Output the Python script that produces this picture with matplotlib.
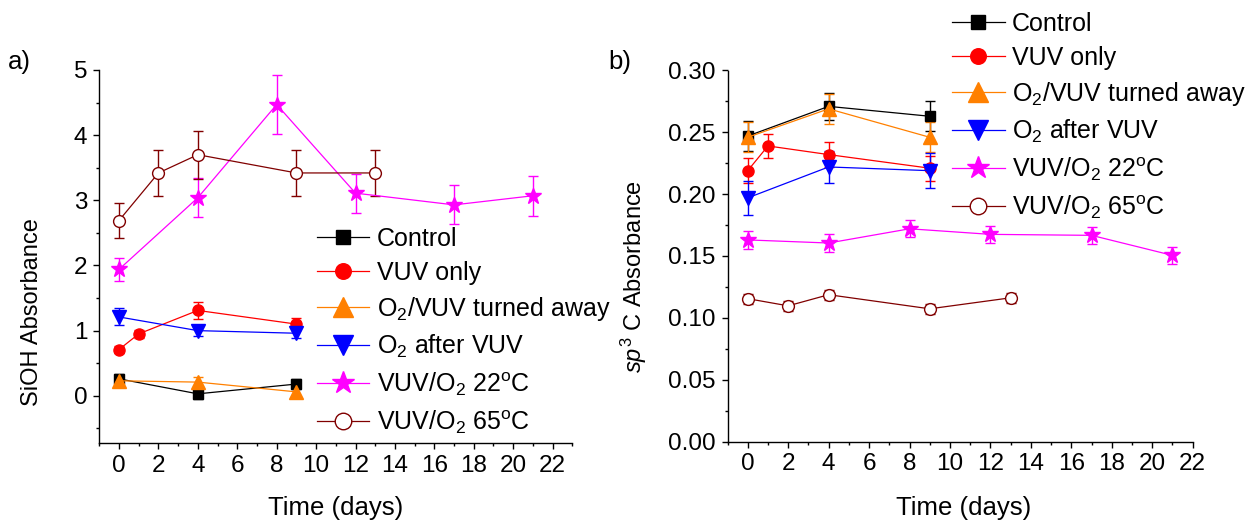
import matplotlib
matplotlib.use("Agg")
import matplotlib.pyplot as plt
from matplotlib.ticker import MultipleLocator, FormatStrFormatter

plt.rcParams["font.family"] = ["Liberation Sans", "DejaVu Sans"]
plt.rcParams["mathtext.fontset"] = "custom"
plt.rcParams["mathtext.rm"] = "Liberation Sans"
plt.rcParams["mathtext.it"] = "Liberation Sans:italic"
plt.rcParams["mathtext.bf"] = "Liberation Sans:bold"

# ── Data: panel a) SiOH absorbance ─────────────────────────────────────────
a_ctrl_days = [0, 4, 9]
a_ctrl_vals = [0.26, 0.03, 0.18]
a_ctrl_err = [0.08, 0.08, 0.08]

a_vuv_days = [0, 1, 4, 9]
a_vuv_vals = [0.71, 0.95, 1.31, 1.10]
a_vuv_err = [0.05, 0.06, 0.13, 0.09]

a_away_days = [0, 4, 9]
a_away_vals = [0.23, 0.21, 0.06]
a_away_err = [0.08, 0.08, 0.08]

a_after_days = [0, 4, 9]
a_after_vals = [1.21, 1.00, 0.96]
a_after_err = [0.13, 0.08, 0.07]

a_22_days = [0, 4, 8, 12, 17, 21]
a_22_vals = [1.94, 3.04, 4.47, 3.11, 2.93, 3.07]
a_22_err = [0.18, 0.30, 0.45, 0.30, 0.30, 0.31]

a_65_days = [0, 2, 4, 9, 13]
a_65_vals = [2.69, 3.42, 3.70, 3.42, 3.42]
a_65_err = [0.27, 0.35, 0.37, 0.35, 0.35]

# ── Data: panel b) sp3 C absorbance ────────────────────────────────────────
b_ctrl_days = [0, 4, 9]
b_ctrl_vals = [0.247, 0.271, 0.263]
b_ctrl_err = [0.012, 0.011, 0.012]

b_vuv_days = [0, 1, 4, 9]
b_vuv_vals = [0.219, 0.239, 0.232, 0.221]
b_vuv_err = [0.010, 0.010, 0.010, 0.010]

b_away_days = [0, 4, 9]
b_away_vals = [0.246, 0.269, 0.246]
b_away_err = [0.012, 0.012, 0.012]

b_after_days = [0, 4, 9]
b_after_vals = [0.197, 0.222, 0.219]
b_after_err = [0.014, 0.013, 0.014]

b_22_days = [0, 4, 8, 12, 17, 21]
b_22_vals = [0.163, 0.1605, 0.172, 0.1675, 0.1667, 0.1505]
b_22_err = [0.007, 0.007, 0.007, 0.007, 0.007, 0.007]

b_65_days = [0, 2, 4, 9, 13]
b_65_vals = [0.1155, 0.1097, 0.1187, 0.1073, 0.1162]
b_65_err = [0.004, 0.004, 0.004, 0.004, 0.004]

labels = [
    "Control",
    "VUV only",
    r"O$_2$/VUV turned away",
    r"O$_2$ after VUV",
    r"VUV/O$_2$ 22$^{\rm o}$C",
    r"VUV/O$_2$ 65$^{\rm o}$C",
]

# (color, marker, size, face)
styles = [
    ("black", "s", 7.5, "black"),
    ("#FF0000", "o", 8, "#FF0000"),
    ("#FF8000", "^", 10, "#FF8000"),
    ("#0000FF", "v", 10, "#0000FF"),
    ("#FF00FF", "*", 12, "#FF00FF"),
    ("#800000", "o", 8.5, "white"),
]

panel_a = [
    (a_ctrl_days, a_ctrl_vals, a_ctrl_err),
    (a_vuv_days, a_vuv_vals, a_vuv_err),
    (a_away_days, a_away_vals, a_away_err),
    (a_after_days, a_after_vals, a_after_err),
    (a_22_days, a_22_vals, a_22_err),
    (a_65_days, a_65_vals, a_65_err),
]
panel_b = [
    (b_ctrl_days, b_ctrl_vals, b_ctrl_err),
    (b_vuv_days, b_vuv_vals, b_vuv_err),
    (b_away_days, b_away_vals, b_away_err),
    (b_after_days, b_after_vals, b_after_err),
    (b_22_days, b_22_vals, b_22_err),
    (b_65_days, b_65_vals, b_65_err),
]

W, H = 1248, 524
fig = plt.figure(figsize=(W / 100, H / 100), dpi=100)


def px_axes(x0, y0, x1, y1):
    return fig.add_axes([x0 / W, 1 - y1 / H, (x1 - x0) / W, (y1 - y0) / H])


def draw_panel(ax, series):
    handles = []
    for (x, y, e), (col, mk, ms, face) in zip(series, styles):
        c = ax.errorbar(x, y, yerr=e, color=col, marker=mk, markersize=ms,
                        markerfacecolor=face, markeredgecolor=col,
                        markeredgewidth=1.0, linewidth=0.9, elinewidth=1.0,
                        capsize=3.5, capthick=1.0)
        handles.append(c[0])
    for s in ("top", "right"):
        ax.spines[s].set_visible(False)
    for s in ("left", "bottom"):
        ax.spines[s].set_linewidth(1.0)
    ax.xaxis.set_major_locator(MultipleLocator(2))
    ax.xaxis.set_minor_locator(MultipleLocator(1))
    ax.tick_params(which="major", direction="out", length=4.5, width=1.0,
                   labelsize=17.5, pad=4)
    ax.tick_params(which="minor", direction="out", length=2.5, width=1.0)
    return handles


def add_legend(ax, handles, x_px, y_px):
    ax.legend(handles, labels, loc="upper left",
              bbox_to_anchor=(x_px / W, 1 - y_px / H),
              bbox_transform=fig.transFigure, frameon=False, fontsize=18,
              handlelength=2.1, handletextpad=0.3, borderpad=0,
              borderaxespad=0, labelspacing=0.4, markerscale=1.4)


# ── Panel a ──
ax1 = px_axes(99.3, 70, 572.3, 442.7)
h1 = draw_panel(ax1, panel_a)
ax1.set_xlim(-1, 23)
ax1.set_ylim(-0.72, 5)
ax1.yaxis.set_major_locator(MultipleLocator(1))
ax1.yaxis.set_minor_locator(MultipleLocator(0.5))
add_legend(ax1, h1, 316.7, 227)

# ── Panel b ──
ax2 = px_axes(727.5, 70.5, 1192.7, 441.5)
h2 = draw_panel(ax2, panel_b)
ax2.set_xlim(-1, 22)
ax2.set_ylim(0, 0.30)
ax2.yaxis.set_major_locator(MultipleLocator(0.05))
ax2.yaxis.set_minor_locator(MultipleLocator(0.025))
ax2.yaxis.set_major_formatter(FormatStrFormatter("%.2f"))
add_legend(ax2, h2, 952, 12)

# ── Labels ──
fig.text(32 / W, 1 - 312 / H, "SiOH Absorbance", rotation=90,
         ha="center", va="center", fontsize=17)
fig.text(634 / W, 1 - 276 / H, r"$sp^3$ C Absorbance", rotation=90,
         ha="center", va="center", fontsize=17)
fig.text(336 / W, 1 - 508 / H, "Time (days)", ha="center", va="center", fontsize=18.5)
fig.text(964 / W, 1 - 508 / H, "Time (days)", ha="center", va="center", fontsize=18.5)
fig.text(8 / W, 1 - 62 / H, "a)", ha="left", va="center", fontsize=18.5)
fig.text(608 / W, 1 - 62 / H, "b)", ha="left", va="center", fontsize=18.5)

fig.savefig("out.png", dpi=100)
